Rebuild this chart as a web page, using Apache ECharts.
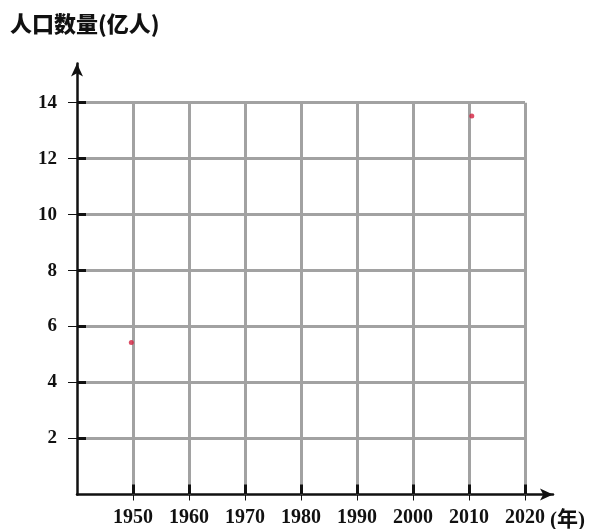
<!DOCTYPE html>
<html>
<head>
<meta charset="utf-8">
<script src="https://cdn.jsdelivr.net/npm/echarts@6/dist/echarts.min.js"></script>
<style>html,body{margin:0;padding:0;background:#fff;}#c{width:590px;height:529px;}</style>
</head>
<body>
<div id="c"></div>
<script>
var yTitle = '人口数量(亿人)';
var xUnit = '(年)';
var xTicks = [1950, 1960, 1970, 1980, 1990, 2000, 2010, 2020];
var yTicks = [2, 4, 6, 8, 10, 12, 14];
var xMin = 1940, xMax = 2025;
var yMin = 0, yMax = 15.4;
var points = [[1949.7, 5.43], [2010.5, 13.52]];

var gridLines = [];
xTicks.forEach(function (x) { gridLines.push({ coords: [[x, yMin], [x, yTicks[yTicks.length - 1]]] }); });
yTicks.forEach(function (y) { gridLines.push({ coords: [[xMin, y], [xTicks[xTicks.length - 1], y]] }); });

var chart = echarts.init(document.getElementById('c'));
var serif = '"Liberation Serif", "Noto Sans CJK SC", serif';
function plain(v) { return String(v); }
chart.setOption({
  animation: false,
  title: [
    { text: yTitle, left: 5, top: 8, textStyle: { fontFamily: '"Noto Sans CJK SC", sans-serif', fontWeight: 900, fontSize: 22, color: '#111' } },
    { text: xUnit, left: 545, top: 505, textStyle: { fontFamily: serif, fontWeight: 'bold', fontSize: 21, color: '#111' } }
  ],
  grid: { left: 77, right: 37, top: 63.5, bottom: 34.5, containLabel: false },
  xAxis: [
    {
      type: 'value', min: xMin, max: xMax, interval: 10,
      axisLine: { show: true, symbol: ['none', 'arrow'], symbolSize: [9, 13], lineStyle: { color: '#111', width: 2.5 } },
      axisTick: { show: true, inside: false, length: 6, lineStyle: { color: '#111', width: 1 }, customValues: xTicks },
      axisLabel: { show: true, customValues: xTicks, formatter: plain, margin: 13, fontFamily: serif, fontWeight: 'bold', fontSize: 20, color: '#111' },
      splitLine: { show: false }
    },
    {
      type: 'value', min: xMin, max: xMax, position: 'bottom', z: 5,
      axisLine: { show: false },
      axisTick: { show: true, inside: true, length: 10, lineStyle: { color: '#111', width: 3 }, customValues: xTicks },
      axisLabel: { show: false },
      splitLine: { show: false }
    }
  ],
  yAxis: [
    {
      type: 'value', min: yMin, max: yMax, interval: 2,
      axisLine: { show: true, symbol: ['none', 'arrow'], symbolSize: [9, 13], lineStyle: { color: '#111', width: 2.5 } },
      axisTick: { show: true, inside: false, length: 9, lineStyle: { color: '#111', width: 1 }, customValues: yTicks },
      axisLabel: { show: true, customValues: yTicks, formatter: plain, margin: 20, fontFamily: serif, fontWeight: 'bold', fontSize: 19, color: '#111' },
      splitLine: { show: false }
    },
    {
      type: 'value', min: yMin, max: yMax, position: 'left', z: 5,
      axisLine: { show: false },
      axisTick: { show: true, inside: true, length: 9, lineStyle: { color: '#111', width: 3 }, customValues: yTicks },
      axisLabel: { show: false },
      splitLine: { show: false }
    }
  ],
  series: [
    {
      type: 'lines', coordinateSystem: 'cartesian2d', xAxisIndex: 0, yAxisIndex: 0, z: 1, silent: true,
      lineStyle: { color: '#a2a2a2', width: 3, opacity: 1 },
      data: gridLines
    },
    {
      type: 'scatter', xAxisIndex: 0, yAxisIndex: 0, z: 6,
      symbol: 'circle', symbolSize: 5,
      itemStyle: { color: '#d3203f' },
      data: points
    }
  ]
});
</script>
</body>
</html>
